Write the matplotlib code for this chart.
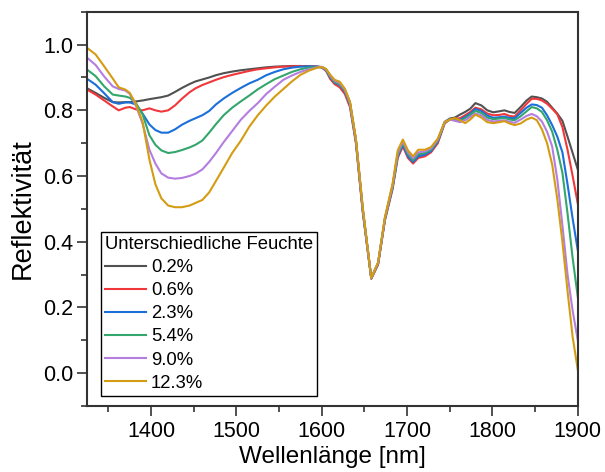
import matplotlib
matplotlib.use("Agg")
import matplotlib.pyplot as plt
from matplotlib.ticker import MultipleLocator, FormatStrFormatter

plt.rcParams["font.family"] = ["Liberation Sans", "DejaVu Sans"]

wavelength = [1325, 1335, 1345, 1355, 1362, 1370, 1375, 1382, 1390, 1398, 1405, 1412,
              1420, 1428, 1436, 1445, 1452, 1460, 1468, 1476, 1485, 1495, 1505, 1515,
              1525, 1535, 1545, 1555, 1565, 1575, 1585, 1595, 1600, 1605, 1610, 1615,
              1621, 1627, 1633, 1640, 1648, 1658, 1666, 1674, 1683, 1689, 1695, 1701,
              1707, 1713, 1721, 1728, 1736, 1744, 1750, 1756, 1762, 1768, 1774, 1780,
              1787, 1794, 1801, 1808, 1814, 1820, 1826, 1833, 1840, 1846, 1852, 1858,
              1864, 1870, 1876, 1882, 1888, 1894, 1900]

r_02 = [0.867, 0.853, 0.838, 0.825, 0.824, 0.825, 0.825, 0.827, 0.830, 0.834, 0.837, 0.840,
        0.845, 0.856, 0.868, 0.880, 0.888, 0.894, 0.900, 0.907, 0.913, 0.918, 0.922, 0.925,
        0.928, 0.931, 0.933, 0.934, 0.935, 0.935, 0.934, 0.933, 0.932, 0.925, 0.905, 0.890,
        0.882, 0.862, 0.825, 0.710, 0.500, 0.290, 0.335, 0.470, 0.570, 0.665, 0.700, 0.665,
        0.650, 0.665, 0.670, 0.680, 0.710, 0.765, 0.775, 0.778, 0.787, 0.795, 0.805, 0.822,
        0.815, 0.800, 0.794, 0.797, 0.800, 0.795, 0.792, 0.810, 0.830, 0.842, 0.840, 0.836,
        0.826, 0.808, 0.790, 0.768, 0.720, 0.670, 0.620]

r_06 = [0.863, 0.848, 0.830, 0.812, 0.800, 0.808, 0.810, 0.803, 0.800, 0.806, 0.800, 0.796,
        0.800, 0.815, 0.835, 0.855, 0.867, 0.877, 0.885, 0.893, 0.901, 0.908, 0.914, 0.920,
        0.925, 0.928, 0.931, 0.933, 0.934, 0.935, 0.934, 0.933, 0.930, 0.920, 0.895, 0.880,
        0.870, 0.850, 0.810, 0.700, 0.490, 0.287, 0.330, 0.465, 0.560, 0.655, 0.690, 0.655,
        0.638, 0.655, 0.660, 0.672, 0.700, 0.760, 0.772, 0.775, 0.776, 0.785, 0.795, 0.808,
        0.803, 0.790, 0.785, 0.786, 0.789, 0.783, 0.781, 0.800, 0.820, 0.835, 0.835, 0.830,
        0.820, 0.805, 0.788, 0.749, 0.680, 0.600, 0.516]

r_23 = [0.896, 0.878, 0.852, 0.825, 0.820, 0.824, 0.824, 0.818, 0.790, 0.757, 0.740, 0.732,
        0.732, 0.742, 0.756, 0.768, 0.776, 0.785, 0.798, 0.818, 0.836, 0.853, 0.868, 0.882,
        0.893, 0.907, 0.917, 0.925, 0.930, 0.933, 0.934, 0.933, 0.931, 0.922, 0.900, 0.885,
        0.877, 0.857, 0.817, 0.705, 0.495, 0.288, 0.333, 0.468, 0.565, 0.660, 0.695, 0.660,
        0.643, 0.660, 0.665, 0.676, 0.705, 0.762, 0.773, 0.772, 0.771, 0.780, 0.790, 0.804,
        0.798, 0.784, 0.777, 0.779, 0.781, 0.777, 0.776, 0.792, 0.808, 0.818, 0.816, 0.808,
        0.785, 0.755, 0.720, 0.672, 0.575, 0.470, 0.374]

r_54 = [0.924, 0.904, 0.873, 0.848, 0.845, 0.842, 0.838, 0.823, 0.788, 0.724, 0.695, 0.678,
        0.670, 0.673, 0.679, 0.687, 0.695, 0.708, 0.732, 0.758, 0.785, 0.808, 0.827, 0.845,
        0.864, 0.880, 0.895, 0.906, 0.917, 0.925, 0.930, 0.932, 0.931, 0.923, 0.902, 0.887,
        0.879, 0.860, 0.820, 0.708, 0.498, 0.289, 0.335, 0.470, 0.568, 0.665, 0.700, 0.666,
        0.648, 0.666, 0.670, 0.680, 0.708, 0.763, 0.772, 0.770, 0.768, 0.776, 0.786, 0.798,
        0.792, 0.778, 0.773, 0.775, 0.777, 0.772, 0.770, 0.782, 0.797, 0.810, 0.806, 0.795,
        0.770, 0.735, 0.680, 0.610, 0.486, 0.350, 0.232]

r_90 = [0.960, 0.938, 0.903, 0.873, 0.865, 0.860, 0.850, 0.815, 0.760, 0.680, 0.638, 0.608,
        0.595, 0.592, 0.594, 0.600, 0.607, 0.620, 0.643, 0.670, 0.703, 0.737, 0.771, 0.798,
        0.822, 0.850, 0.872, 0.893, 0.906, 0.917, 0.925, 0.931, 0.932, 0.925, 0.905, 0.890,
        0.883, 0.863, 0.823, 0.711, 0.500, 0.290, 0.336, 0.472, 0.572, 0.670, 0.705, 0.672,
        0.654, 0.672, 0.675, 0.684, 0.711, 0.764, 0.772, 0.768, 0.764, 0.770, 0.780, 0.790,
        0.785, 0.771, 0.766, 0.768, 0.770, 0.765, 0.762, 0.772, 0.783, 0.789, 0.782, 0.766,
        0.735, 0.690, 0.590, 0.450, 0.300, 0.190, 0.100]

r_123 = [0.990, 0.970, 0.934, 0.897, 0.870, 0.863, 0.853, 0.820, 0.765, 0.650, 0.575, 0.532,
         0.510, 0.505, 0.505, 0.510, 0.518, 0.527, 0.550, 0.585, 0.625, 0.670, 0.707, 0.750,
         0.785, 0.815, 0.842, 0.865, 0.888, 0.908, 0.921, 0.930, 0.932, 0.926, 0.908, 0.893,
         0.887, 0.866, 0.826, 0.713, 0.505, 0.289, 0.337, 0.475, 0.577, 0.678, 0.711, 0.678,
         0.660, 0.680, 0.680, 0.688, 0.714, 0.764, 0.772, 0.776, 0.770, 0.761, 0.772, 0.787,
         0.778, 0.764, 0.761, 0.764, 0.767, 0.760, 0.755, 0.760, 0.772, 0.778, 0.770, 0.742,
         0.700, 0.635, 0.530, 0.400, 0.250, 0.110, 0.010]

labels = ["0.2%", "0.6%", "2.3%", "5.4%", "9.0%", "12.3%"]
series = [r_02, r_06, r_23, r_54, r_90, r_123]
colors = ["#515151", "#f0373b", "#1a6fdb", "#33a66c", "#b47de0", "#d49c12"]

fig = plt.figure(figsize=(6.05, 4.72), dpi=100)
ax = fig.add_axes([0.144, 0.14, 0.811, 0.835])

for vals, lab, col in zip(series, labels, colors):
    ax.plot(wavelength, vals, color=col, lw=1.5, label=lab)

ax.set_xlim(1325, 1900)
ax.set_ylim(-0.1, 1.1)
ax.xaxis.set_major_locator(MultipleLocator(100))
ax.xaxis.set_minor_locator(MultipleLocator(50))
ax.yaxis.set_major_locator(MultipleLocator(0.2))
ax.yaxis.set_minor_locator(MultipleLocator(0.1))
ax.yaxis.set_major_formatter(FormatStrFormatter("%.1f"))
ax.tick_params(which="both", direction="out", width=1.2, color="#333333", labelsize=15.5)
ax.tick_params(which="major", length=7)
ax.tick_params(which="minor", length=4)
ax.tick_params(axis="x", pad=3.5)
ax.tick_params(axis="y", pad=3)
for s in ax.spines.values():
    s.set_linewidth(1.5)
    s.set_color("#333333")

ax.set_xlabel("Wellenlänge [nm]", fontsize=17.5, labelpad=3)
ax.set_ylabel("Reflektivität", fontsize=19.5, labelpad=5)

leg = ax.legend(title="Unterschiedliche Feuchte", loc="lower left",
                bbox_to_anchor=(0.0285, 0.026), borderaxespad=0, fontsize=13.3,
                title_fontsize=13.3, alignment="left", fancybox=False,
                edgecolor="black", framealpha=1, handlelength=2.2,
                handletextpad=0.27, labelspacing=0.33, borderpad=0.22)
leg.get_frame().set_linewidth(1.0)

fig.savefig("out.png", dpi=100)
